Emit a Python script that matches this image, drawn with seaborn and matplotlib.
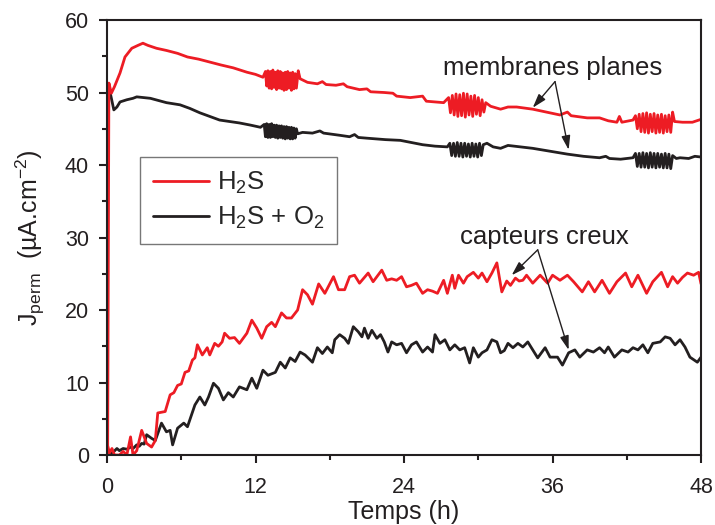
import matplotlib
matplotlib.use("Agg")
import matplotlib.pyplot as plt
import seaborn as sns
import pandas as pd
from matplotlib.lines import Line2D
from matplotlib.ticker import MultipleLocator

# ---------------- data ----------------
labels = ["H$_2$S", "H$_2$S + O$_2$"]

mem_h2s_x = [0.05, 0.15, 0.35, 0.6, 1.05, 1.45, 2.0, 2.5, 2.9, 3.3, 4.0, 4.8, 5.7, 6.5, 7.4, 8.3, 9.2, 10.2, 11.3, 12.0, 12.6,
             12.8, 12.9, 13.0, 13.1, 13.2, 13.3, 13.4, 13.5, 13.6, 13.7, 13.8, 13.9, 14.0, 14.1, 14.2, 14.3, 14.4, 14.5, 14.6, 14.7,
             14.8, 14.9, 15.0, 15.1, 15.2, 15.3, 15.45, 15.6, 16.2, 17.0, 17.4, 17.7, 18.5, 19.1, 19.4, 20.4, 21.0, 21.3, 22.4,
             23.1, 23.4, 24.5, 25.5, 25.8, 27.2,
             27.6, 27.75, 27.9, 28.05, 28.2, 28.35, 28.5, 28.65, 28.8, 28.95, 29.1, 29.25, 29.4, 29.55, 29.7, 29.85, 30.0, 30.15,
             30.3, 30.45, 30.6, 31.0, 31.8, 32.4, 33.1, 34.4, 35.5, 36.6, 37.2, 37.5, 38.8, 39.8, 40.5, 41.2, 41.4, 41.6, 42.5,
             42.7, 42.85, 43.0, 43.15, 43.3, 43.45, 43.6, 43.75, 43.9, 44.05, 44.2, 44.35, 44.5, 44.65, 44.8, 44.95, 45.1, 45.25,
             45.4, 45.55, 45.7, 45.85, 46.5, 47.3, 48.0]
mem_h2s_y = [0.0, 51.3, 49.9, 50.8, 52.7, 54.9, 56.1, 56.5, 56.8, 56.5, 56.1, 55.8, 55.4, 54.9, 54.6, 54.2, 53.8, 53.4, 52.8, 52.5, 52.1,
             52.9, 50.9, 53.0, 50.6, 52.9, 50.5, 53.1, 50.7, 52.8, 50.4, 53.0, 50.6, 52.9, 50.5, 52.7, 50.3, 52.8, 50.4, 52.9, 50.6,
             52.7, 50.3, 52.8, 50.5, 52.6, 50.6, 53.0, 51.9, 51.4, 51.2, 51.5, 51.1, 51.0, 51.2, 50.8, 50.4, 50.5, 50.1, 50.0,
             49.9, 49.5, 49.3, 49.5, 48.8, 48.6,
             49.3, 47.2, 49.6, 46.9, 49.8, 46.7, 49.7, 46.8, 49.9, 46.6, 49.8, 46.9, 49.5, 46.7, 49.6, 47.0, 49.3, 46.8,
             49.0, 47.3, 48.6, 48.1, 47.7, 48.0, 48.0, 47.7, 47.3, 46.9, 47.3, 46.8, 46.5, 46.5, 46.1, 45.9, 46.7, 45.9, 46.2,
             46.8, 45.0, 47.0, 44.6, 47.1, 44.5, 47.2, 44.4, 47.0, 44.6, 47.1, 44.4, 46.9, 44.5, 47.0, 44.4, 46.8, 44.6,
             46.9, 44.5, 47.3, 46.0, 45.9, 45.9, 46.3]

mem_o2_x = [0.25, 0.55, 0.8, 1.05, 1.6, 2.1, 2.4, 3.5, 4.8, 5.9, 6.7, 7.5, 8.3, 9.1, 10.7, 11.6, 12.4,
            12.7, 12.8, 12.9, 13.0, 13.1, 13.2, 13.3, 13.4, 13.5, 13.6, 13.7, 13.8, 13.9, 14.0, 14.1, 14.2, 14.3, 14.4, 14.5,
            14.6, 14.7, 14.8, 14.9, 15.0, 15.1, 15.2, 15.3, 15.4,
            15.8, 16.6, 17.2, 17.5, 18.8, 19.6, 20.0, 20.3, 21.0, 22.5, 23.7, 24.6, 25.5, 26.5, 27.5,
            27.7, 27.85, 28.0, 28.15, 28.3, 28.45, 28.6, 28.75, 28.9, 29.05, 29.2, 29.35, 29.5, 29.65, 29.8, 29.95, 30.1, 30.25, 30.4,
            30.7, 31.2, 31.8, 32.4, 33.4, 34.4, 35.8, 37.2, 38.5, 39.8, 40.3, 40.6, 41.5, 42.5,
            42.7, 42.85, 43.0, 43.15, 43.3, 43.45, 43.6, 43.75, 43.9, 44.05, 44.2, 44.35, 44.5, 44.65, 44.8, 44.95, 45.1, 45.25,
            45.4, 45.55, 45.7, 46.0, 46.3, 47.0, 47.5, 48.0]
mem_o2_y = [50.0, 47.6, 48.0, 48.7, 49.0, 49.2, 49.4, 49.2, 48.6, 48.3, 47.8, 47.2, 46.7, 46.2, 45.8, 45.5, 45.2,
            45.6, 43.9, 45.7, 43.8, 45.6, 43.8, 45.7, 43.9, 45.5, 43.8, 45.5, 43.7, 45.4, 43.8, 45.4, 43.7, 45.3, 43.6, 45.3,
            43.7, 45.2, 43.6, 45.2, 43.6, 45.1, 43.7, 45.0, 44.3,
            44.5, 44.4, 44.7, 44.4, 44.1, 43.9, 44.2, 43.8, 43.7, 43.5, 43.4, 43.1, 42.8, 42.6, 42.5,
            43.0, 41.3, 43.0, 41.2, 43.1, 41.2, 43.0, 41.1, 43.0, 41.2, 42.9, 41.1, 43.0, 41.2, 42.9, 41.1, 43.0, 41.3, 42.8,
            43.0, 42.5, 42.3, 42.7, 42.5, 42.3, 41.9, 41.5, 41.2, 41.0, 41.2, 40.9, 40.8, 41.0,
            41.6, 39.8, 41.6, 39.7, 41.7, 39.7, 41.6, 39.6, 41.7, 39.7, 41.6, 39.6, 41.6, 39.7, 41.5, 39.6, 41.6, 39.6,
            41.5, 39.5, 41.3, 40.9, 41.0, 40.9, 41.2, 41.1]

hol_h2s_x = [0.0, 0.2, 0.4, 0.6, 1.0, 1.3, 1.6, 1.9, 2.1, 2.4, 2.8, 3.2, 3.6, 3.9, 4.1, 4.7, 5.1, 5.4, 5.7, 6.0, 6.3, 6.6, 6.9,
             7.1, 7.3, 7.7, 8.1, 8.3, 8.7, 9.0, 9.3, 9.5, 9.9, 10.3, 10.7, 11.3, 11.7, 12.1, 12.5, 12.9, 13.3, 13.6, 14.1,
             14.5, 14.9, 15.4, 15.8, 16.2, 16.6, 17.1, 17.6, 18.3, 18.7, 19.2, 19.6, 20.0, 20.4, 21.1, 21.5, 22.2, 22.6,
             23.0, 23.4, 23.8, 24.2, 24.6, 25.0, 25.5, 25.9, 26.3, 26.7, 27.2, 27.5, 27.9, 28.1, 28.4, 28.8, 29.1, 29.6,
             30.0, 30.3, 30.7, 31.1, 31.5, 31.9, 32.3, 32.6, 33.0, 33.3, 33.6, 33.9, 34.4, 35.0, 35.6, 36.0, 36.6, 37.2,
             37.7, 38.4, 38.9, 39.4, 40.0, 40.6, 41.2, 41.9, 42.4, 42.9, 43.6, 44.1, 44.8, 45.3, 45.7, 46.1, 46.5, 46.9,
             47.4, 47.8, 48.0]
hol_h2s_y = [1.6, 0.3, 0.9, 0.0, 0.0, 0.5, 0.0, 2.5, 0.0, 0.6, 3.4, 1.6, 1.1, 2.0, 5.8, 6.0, 8.3, 8.6, 9.6, 9.8, 11.4, 11.6, 13.1,
             13.4, 15.2, 13.8, 14.8, 13.8, 15.4, 15.0, 15.6, 16.8, 16.1, 16.2, 15.4, 16.8, 18.6, 17.5, 16.1, 17.7, 18.3, 17.7, 19.6,
             18.9, 18.9, 20.0, 22.8, 22.1, 20.8, 23.6, 22.3, 24.6, 22.8, 22.8, 24.6, 24.8, 23.7, 25.1, 23.9, 25.5, 24.1,
             24.3, 24.1, 24.6, 23.2, 23.4, 23.7, 22.3, 22.8, 22.6, 22.3, 24.1, 22.3, 24.8, 23.0, 24.8, 23.7, 24.6, 25.2,
             24.4, 25.1, 23.9, 25.1, 26.5, 22.5, 24.0, 23.4, 24.4, 24.0, 24.1, 24.8, 23.7, 24.8, 23.7, 24.8, 24.1, 24.8,
             23.9, 22.5, 23.9, 22.5, 24.1, 22.3, 23.9, 25.1, 23.2, 24.8, 22.3, 23.9, 25.2, 23.2, 24.6, 23.7, 24.5, 25.1,
             24.8, 25.2, 23.6]

hol_o2_x = [0.2, 0.5, 0.8, 1.0, 1.3, 1.6, 1.9, 2.1, 2.4, 2.6, 2.8, 3.0, 3.2, 3.6, 3.9, 4.4, 4.8, 5.1, 5.3, 5.7, 6.2, 6.5, 7.1,
            7.5, 7.9, 8.2, 8.6, 9.0, 9.4, 9.8, 10.2, 10.7, 11.3, 11.7, 12.1, 12.6, 13.0, 13.6, 14.0, 14.4, 14.8, 15.2, 15.6,
            16.0, 16.6, 17.0, 17.4, 17.8, 18.2, 18.4, 18.8, 19.2, 19.5, 19.9, 20.3, 20.6, 20.8, 21.1, 21.4, 21.8, 22.1, 22.4,
            22.7, 23.0, 23.4, 23.8, 24.2, 24.6, 25.0, 25.5, 25.9, 26.3, 26.5, 26.9, 27.3, 27.7, 28.1, 28.5, 28.9, 29.3, 29.6,
            30.0, 30.3, 30.7, 31.1, 31.5, 31.8, 32.1, 32.4, 32.8, 33.2, 33.6, 34.0, 34.4, 34.8, 35.4, 35.8, 36.4, 36.8, 37.3,
            37.8, 38.2, 38.8, 39.3, 39.8, 40.2, 40.5, 41.0, 41.6, 42.1, 42.5, 42.9, 43.3, 43.7, 44.1, 44.7, 45.1, 45.5, 45.9,
            46.3, 46.7, 47.1, 47.7, 48.0]
hol_o2_y = [0.0, 0.4, 0.9, 0.6, 0.9, 0.8, 1.1, 0.9, 1.4, 1.2, 1.6, 1.5, 2.8, 2.3, 2.0, 4.4, 3.2, 3.4, 1.4, 3.7, 4.4, 3.9, 6.9,
            8.0, 6.9, 8.0, 9.9, 9.2, 7.6, 8.6, 8.0, 9.4, 9.0, 10.6, 9.2, 11.7, 11.0, 11.4, 12.8, 12.0, 13.4, 12.9, 14.2,
            13.8, 12.8, 14.8, 14.0, 14.9, 14.1, 15.9, 16.6, 16.1, 15.4, 17.7, 17.0, 16.3, 17.5, 16.1, 17.2, 16.1, 16.6, 15.6,
            14.2, 15.6, 15.2, 15.4, 14.1, 15.2, 15.6, 14.2, 14.9, 14.2, 16.6, 15.4, 15.9, 14.5, 15.2, 14.5, 14.8, 12.7, 14.8,
            13.5, 14.1, 14.5, 15.9, 15.6, 14.1, 14.4, 15.4, 14.8, 15.4, 14.9, 15.6, 14.5, 13.4, 14.8, 13.5, 13.5, 12.4, 14.1,
            14.5, 13.5, 14.5, 14.2, 14.8, 14.1, 14.9, 13.5, 14.5, 14.2, 14.8, 14.5, 15.2, 14.1, 15.4, 15.6, 16.3, 16.1, 15.2,
            15.9, 14.9, 13.5, 12.8, 13.5]

x_ticks = [0, 12, 24, 36, 48]
y_ticks = [0, 10, 20, 30, 40, 50, 60]
x_label = "Temps (h)"
y_label = "J$_{perm}$  (µA.cm$^{-2}$)"
note_mem = "membranes planes"
note_hol = "capteurs creux"

# ---------------- build table ----------------
frames = []
for name, cond, xs, ys in [
    ("mem_o2", labels[1], mem_o2_x, mem_o2_y),
    ("hol_o2", labels[1], hol_o2_x, hol_o2_y),
    ("mem_h2s", labels[0], mem_h2s_x, mem_h2s_y),
    ("hol_h2s", labels[0], hol_h2s_x, hol_h2s_y),
]:
    frames.append(pd.DataFrame({"t": xs, "J": ys, "curve": name, "cond": cond}))
df = pd.concat(frames, ignore_index=True)

# ---------------- style ----------------
sns.set_theme(style="ticks")
plt.rcParams["font.family"] = ["Liberation Sans", "DejaVu Sans"]
plt.rcParams["mathtext.fontset"] = "custom"
plt.rcParams["mathtext.rm"] = "Liberation Sans"
plt.rcParams["mathtext.it"] = "Liberation Sans"
plt.rcParams["mathtext.default"] = "regular"

RED = "#ED1C24"
BLACK = "#231F20"
palette = {labels[0]: RED, labels[1]: BLACK}
LW = 2.0

fig = plt.figure(figsize=(7.15, 5.25), dpi=100)
ax = fig.add_axes([0.1497, 0.1333, 0.8308, 0.8286])

for curve in ["mem_o2", "hol_o2", "mem_h2s", "hol_h2s"]:
    sub = df[df["curve"] == curve]
    sns.lineplot(data=sub, x="t", y="J", hue="cond", palette=palette, estimator=None,
                 sort=False, linewidth=LW, ax=ax, legend=False)

ax.set_xlim(0, 48)
ax.set_ylim(0, 60)
ax.set_xticks(x_ticks)
ax.set_yticks(y_ticks)
ax.xaxis.set_minor_locator(MultipleLocator(6))
ax.yaxis.set_minor_locator(MultipleLocator(5))
ax.tick_params(axis="both", which="major", direction="out", length=6, width=1.5,
               labelsize=15.5, pad=7, colors=BLACK, labelcolor=BLACK)
ax.tick_params(axis="x", which="major", pad=10)
ax.tick_params(axis="both", which="minor", direction="out", length=3.5, width=1.5, colors=BLACK)
ax.tick_params(top=True, right=True, which="both")
for t in ax.xaxis.get_major_ticks() + ax.xaxis.get_minor_ticks():
    t.tick2line.set_markersize(2)
    t.tick2line.set_marker("|")
for t in ax.yaxis.get_major_ticks() + ax.yaxis.get_minor_ticks():
    t.tick2line.set_markersize(2)
    t.tick2line.set_marker("_")

for s in ax.spines.values():
    s.set_visible(True)
    s.set_color(BLACK)
    s.set_linewidth(1.5)

ax.set_xlabel(x_label, fontsize=18, labelpad=1, color=BLACK)
ax.set_ylabel(y_label, fontsize=18, labelpad=13, color=BLACK)

handles = [Line2D([], [], color=RED, lw=LW), Line2D([], [], color=BLACK, lw=LW)]
leg = ax.legend(handles, labels, loc="upper left", bbox_to_anchor=(0.0556, 0.685),
                borderaxespad=0, fontsize=18.5, frameon=True, fancybox=False, handlelength=2.2,
                handletextpad=0.3, borderpad=0.5, labelspacing=0.35)
leg.get_frame().set_edgecolor("#555555")
leg.get_frame().set_linewidth(1.0)

# annotations
ax.text(36.0, 53.4, note_mem, fontsize=18.5, ha="center", va="center", color=BLACK)
ax.text(35.3, 30.1, note_hol, fontsize=18.5, ha="center", va="center", color=BLACK)
arrow = dict(arrowstyle="-|>,head_length=0.7,head_width=0.22", color=BLACK, lw=1.0,
             shrinkA=0, shrinkB=0)
ax.annotate("", xy=(34.4, 47.9), xytext=(36.2, 51.5), arrowprops=arrow)
ax.annotate("", xy=(37.3, 42.1), xytext=(36.2, 51.5), arrowprops=arrow)
ax.annotate("", xy=(32.7, 24.8), xytext=(34.8, 28.3), arrowprops=arrow)
ax.annotate("", xy=(37.3, 14.5), xytext=(34.8, 28.3), arrowprops=arrow)

fig.savefig("out.png", dpi=100)
